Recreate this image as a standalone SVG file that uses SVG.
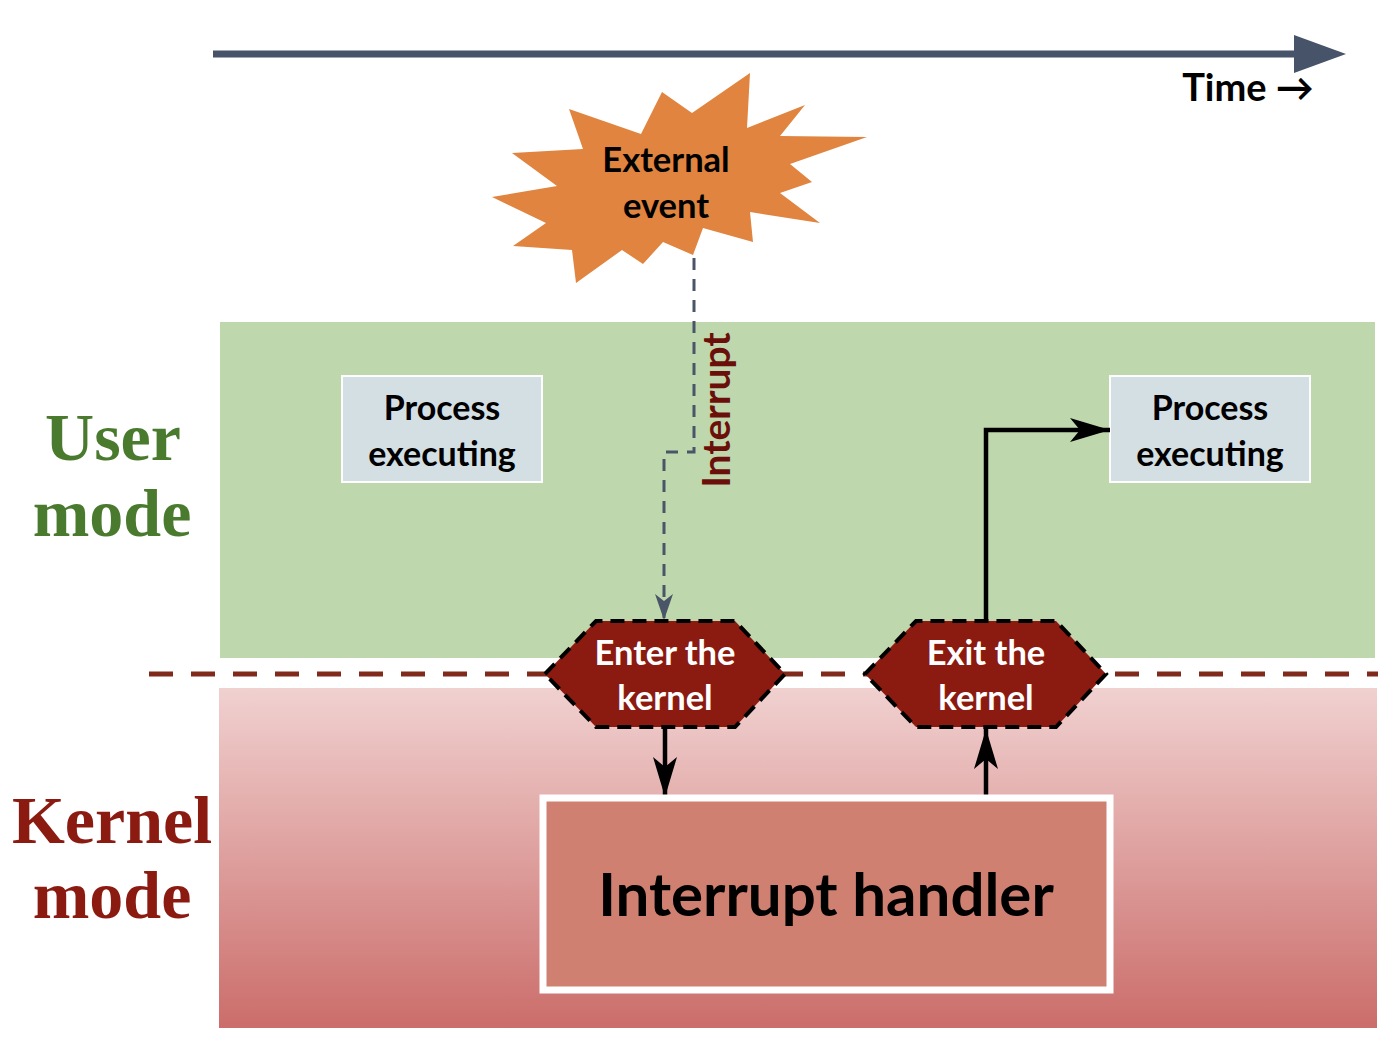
<svg xmlns="http://www.w3.org/2000/svg" width="1396" height="1044" viewBox="0 0 1396 1044">
<defs>
<linearGradient id="kgrad" x1="0" y1="0" x2="0" y2="1">
<stop offset="0" stop-color="#F0D1D0"/>
<stop offset="1" stop-color="#CB6D6A"/>
</linearGradient>
<marker id="timeHead" viewBox="0 0 52 38" refX="4" refY="19" markerWidth="52" markerHeight="38" markerUnits="userSpaceOnUse" orient="auto">
<path d="M0,0 L52,19 L0,38 Z" fill="#465369"/>
</marker>
<marker id="blackHead" viewBox="0 0 40 24" refX="40" refY="12" markerWidth="40" markerHeight="24" markerUnits="userSpaceOnUse" orient="auto">
<path d="M0,0 L40,12 L0,24 L10,12 Z" fill="#000"/>
</marker>
<marker id="greyHead" viewBox="0 0 26 18" refX="26" refY="9" markerWidth="26" markerHeight="18" markerUnits="userSpaceOnUse" orient="auto">
<path d="M0,0 L26,9 L0,18 L7,9 Z" fill="#4A5568"/>
</marker>
</defs>
<style>
.lbl{font-family:Lato,"Open Sans","Liberation Sans",sans-serif;font-weight:bold;text-anchor:middle}
.mode{font-family:"Liberation Serif",serif;font-weight:bold;text-anchor:middle;font-size:68px}
.proc{fill:#D3DFE3;stroke:#FFFFFF;stroke-width:2}
.hex{fill:#8B1A10;stroke:#000;stroke-width:4;stroke-dasharray:14 8}
.conn{fill:none;stroke:#000;stroke-width:4.5}
</style>
<rect width="1396" height="1044" fill="#FFFFFF"/>
<g id="user-band">
<rect x="220" y="322" width="1155" height="336" fill="#BFD7AD"/>
</g>
<g id="kernel-band">
<rect x="219" y="688" width="1158" height="340" fill="url(#kgrad)"/>
</g>
<g id="mode-boundary">
<line x1="149" y1="674" x2="1378" y2="674" stroke="#7F2A1A" stroke-width="5" stroke-dasharray="24 18"/>
</g>
<g id="mode-labels">
<text class="mode" x="113" y="460" fill="#4A7A2E">User</text>
<text class="mode" x="112" y="536" fill="#4A7A2E" font-size="70">mode</text>
<text class="mode" x="112" y="843" fill="#8B1A10">Kernel</text>
<text class="mode" x="112" y="918" fill="#8B1A10" font-size="70">mode</text>
</g>
<g id="timeline">
<line x1="213" y1="54" x2="1298" y2="54" stroke="#465369" stroke-width="7" marker-end="url(#timeHead)"/>
<text class="lbl" x="1248" y="101" font-size="38" fill="#000">Time →</text>
</g>
<g id="external-event">
<polygon points="750,73 747,128 805,105 780,136 867,137 790,164 812,182 780,193 820,223 750,212 753,242 703,228 693,255 663,242 643,264 622,250 576,283 572,250 513,246 546,223 492,197 557,186 512,153 583,149 569,109 641,134 662,92 692,113" fill="#E0843F"/>
<text class="lbl" x="666" y="172" font-size="34.5" fill="#000">External</text>
<text class="lbl" x="666" y="218" font-size="34.5" fill="#000">event</text>
</g>
<g id="process-left">
<rect class="proc" x="342" y="376" width="200" height="106"/>
<text class="lbl" x="442" y="420" font-size="34" fill="#000">Process</text>
<text class="lbl" x="442" y="466" font-size="34" fill="#000">executing</text>
</g>
<g id="process-right">
<rect class="proc" x="1110" y="376" width="200" height="106"/>
<text class="lbl" x="1210" y="420" font-size="34" fill="#000">Process</text>
<text class="lbl" x="1210" y="466" font-size="34" fill="#000">executing</text>
</g>
<g id="connectors">
<path d="M694,258 V452 H664 V620" fill="none" stroke="#4A5568" stroke-width="3" stroke-dasharray="12 9" marker-end="url(#greyHead)"/>
<text class="lbl" transform="translate(730,410) rotate(-90)" font-size="39" fill="#6B0F0A">Interrupt</text>
<line class="conn" x1="665" y1="727" x2="665" y2="797" marker-end="url(#blackHead)"/>
<line class="conn" x1="986" y1="797" x2="986" y2="729" marker-end="url(#blackHead)"/>
<path class="conn" d="M986,621 V430 H1110" marker-end="url(#blackHead)"/>
</g>
<g id="enter-kernel">
<polygon class="hex" points="545,674 596,621 735,621 785,674 735,727 596,727"/>
<text class="lbl" x="665" y="665" font-size="34.5" fill="#FFFFFF">Enter the</text>
<text class="lbl" x="665" y="710" font-size="34.5" fill="#FFFFFF">kernel</text>
</g>
<g id="exit-kernel">
<polygon class="hex" points="865,674 916,621 1056,621 1106,674 1056,727 916,727"/>
<text class="lbl" x="986" y="665" font-size="34.5" fill="#FFFFFF">Exit the</text>
<text class="lbl" x="986" y="710" font-size="34.5" fill="#FFFFFF">kernel</text>
</g>
<g id="interrupt-handler">
<rect x="543" y="798" width="567" height="192" fill="#D08070" stroke="#FFFFFF" stroke-width="7"/>
<text class="lbl" x="826" y="916" font-size="60" fill="#000">Interrupt handler</text>
</g>
</svg>
